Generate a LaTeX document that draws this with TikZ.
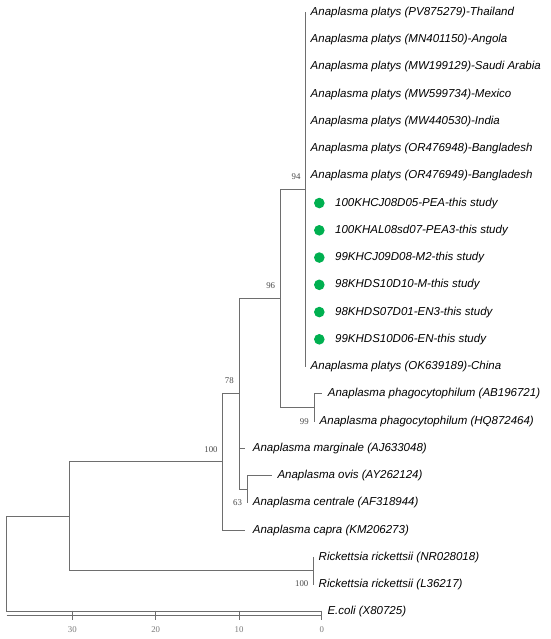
\documentclass[tikz,border=0pt]{standalone}
\usepackage{fontspec}
\setmainfont{Liberation Sans}
\newfontfamily\numfont{Liberation Serif}
\definecolor{brc}{HTML}{6E6E6E}
\definecolor{dotc}{HTML}{00B050}
\definecolor{bsc}{HTML}{4A4A4A}
\definecolor{axc}{HTML}{7A7A7A}
\tikzset{
  leaf/.style={anchor=west, inner sep=0pt, font=\itshape\fontsize{11.5}{12}\selectfont, text=black},
  bs/.style={inner sep=0pt, font=\numfont\fontsize{8.8}{9}\selectfont, text=bsc},
  axlab/.style={inner sep=0pt, font=\numfont\fontsize{8.8}{9}\selectfont, text=axc},
  branch/.style={draw=brc, line width=1pt},
  sdot/.style={circle, fill=dotc, inner sep=0pt, minimum size=10.6pt}
}
\begin{document}
\begin{tikzpicture}[x=1pt,y=-1pt]
\useasboundingbox (0,0) rectangle (550,639);
\fill[white] (0,0) rectangle (550,639);
% ---------- internal nodes ----------
\coordinate (n94) at (305,189.4);
\coordinate (n96) at (280.7,298.4);
\coordinate (nph) at (314,407.4);
\coordinate (n78) at (239.3,393.8);
\coordinate (n63) at (247.3,489.2);
\coordinate (n100) at (222.3,461.9);
\coordinate (nri) at (313.3,570.9);
\coordinate (nar) at (69.3,516.4);
\coordinate (root) at (6.7,564.1);
% ---------- tips ----------
\coordinate (t0) at (305,12.3);
\coordinate (t13) at (305,366.55);
\coordinate (t14) at (321.7,393.8);
\coordinate (t15) at (314.6,421.05);
\coordinate (t16) at (245,448.3);
\coordinate (t17) at (271.7,475.55);
\coordinate (t18) at (248,502.8);
\coordinate (t19) at (245,530.05);
\coordinate (t20) at (313.3,557.3);
\coordinate (t21) at (313.3,584.55);
\coordinate (t22) at (321.7,611.8);
% ---------- branches ----------
\draw[branch] (n94) |- (t0);
\draw[branch] (n94) |- (t13);
\draw[branch] (n96) |- (n94);
\draw[branch] (n96) |- (nph);
\draw[branch] (nph) |- (t14);
\draw[branch] (nph) |- (t15);
\draw[branch] (n78) |- (n96);
\draw[branch] (n78) |- (t16);
\draw[branch] (n78) |- (n63);
\draw[branch] (n63) |- (t17);
\draw[branch] (n63) |- (t18);
\draw[branch] (n100) |- (n78);
\draw[branch] (n100) |- (t19);
\draw[branch] (nri) |- (t20);
\draw[branch] (nri) |- (t21);
\draw[branch] (nar) |- (n100);
\draw[branch] (nar) |- (nri);
\draw[branch] (root) |- (nar);
\draw[branch] (root) |- (t22);
% ---------- leaf labels ----------
\node[leaf] (L0) at (310.5,12.3) {Anaplasma platys (PV875279)-Thailand};
\node[leaf] (L1) at (310.5,39.55) {Anaplasma platys (MN401150)-Angola};
\node[leaf] (L2) at (310.5,66.8) {Anaplasma platys (MW199129)-Saudi Arabia};
\node[leaf] (L3) at (310.5,94.05) {Anaplasma platys (MW599734)-Mexico};
\node[leaf] (L4) at (310.5,121.3) {Anaplasma platys (MW440530)-India};
\node[leaf] (L5) at (310.5,148.55) {Anaplasma platys (OR476948)-Bangladesh};
\node[leaf] (L6) at (310.5,175.8) {Anaplasma platys (OR476949)-Bangladesh};
\node[sdot] (D7) at (319.3,203.05) {};
\node[leaf] (L7) at (335,203.05) {100KHCJ08D05-PEA-this study};
\node[sdot] (D8) at (319.3,230.3) {};
\node[leaf] (L8) at (335,230.3) {100KHAL08sd07-PEA3-this study};
\node[sdot] (D9) at (319.3,257.55) {};
\node[leaf] (L9) at (335,257.55) {99KHCJ09D08-M2-this study};
\node[sdot] (D10) at (319.3,284.8) {};
\node[leaf] (L10) at (335,284.8) {98KHDS10D10-M-this study};
\node[sdot] (D11) at (319.3,312.05) {};
\node[leaf] (L11) at (335,312.05) {98KHDS07D01-EN3-this study};
\node[sdot] (D12) at (319.3,339.3) {};
\node[leaf] (L12) at (335,339.3) {99KHDS10D06-EN-this study};
\node[leaf] (L13) at (310.5,366.55) {Anaplasma platys (OK639189)-China};
\node[leaf] (L14) at (327.7,393.8) {Anaplasma phagocytophilum (AB196721)};
\node[leaf] (L15) at (319.5,421.05) {Anaplasma phagocytophilum (HQ872464)};
\node[leaf] (L16) at (252.7,448.3) {Anaplasma marginale (AJ633048)};
\node[leaf] (L17) at (277.3,475.55) {Anaplasma ovis (AY262124)};
\node[leaf] (L18) at (252.7,502.8) {Anaplasma centrale (AF318944)};
\node[leaf] (L19) at (252.7,530.05) {Anaplasma capra (KM206273)};
\node[leaf] (L20) at (318.5,557.3) {Rickettsia rickettsii (NR028018)};
\node[leaf] (L21) at (318.5,584.55) {Rickettsia rickettsii (L36217)};
\node[leaf] (L22) at (327.3,611.8) {E.coli (X80725)};
% ---------- bootstrap values ----------
\node[bs] (b94) at (296,176.5) {94};
\node[bs] (b96) at (270.7,286) {96};
\node[bs] (b78) at (229.3,381) {78};
\node[bs] (b99) at (304.3,421.7) {99};
\node[bs] (b100a) at (211,449.5) {100};
\node[bs] (b63) at (237.5,503) {63};
\node[bs] (b100b) at (301.7,584) {100};
% ---------- scale axis ----------
\coordinate (ax0) at (6.7,615.5);
\coordinate (ax1) at (321.7,615.5);
\draw[branch] (ax0) -- (ax1);
\foreach \xx/\lab in {321.7/0, 239/10, 155.7/20, 72.3/30}{
  \draw[branch] (\xx,610.5) -- (\xx,620);
  \node[axlab] at (\xx,629.3) {\lab};
}
\end{tikzpicture}
\end{document}
